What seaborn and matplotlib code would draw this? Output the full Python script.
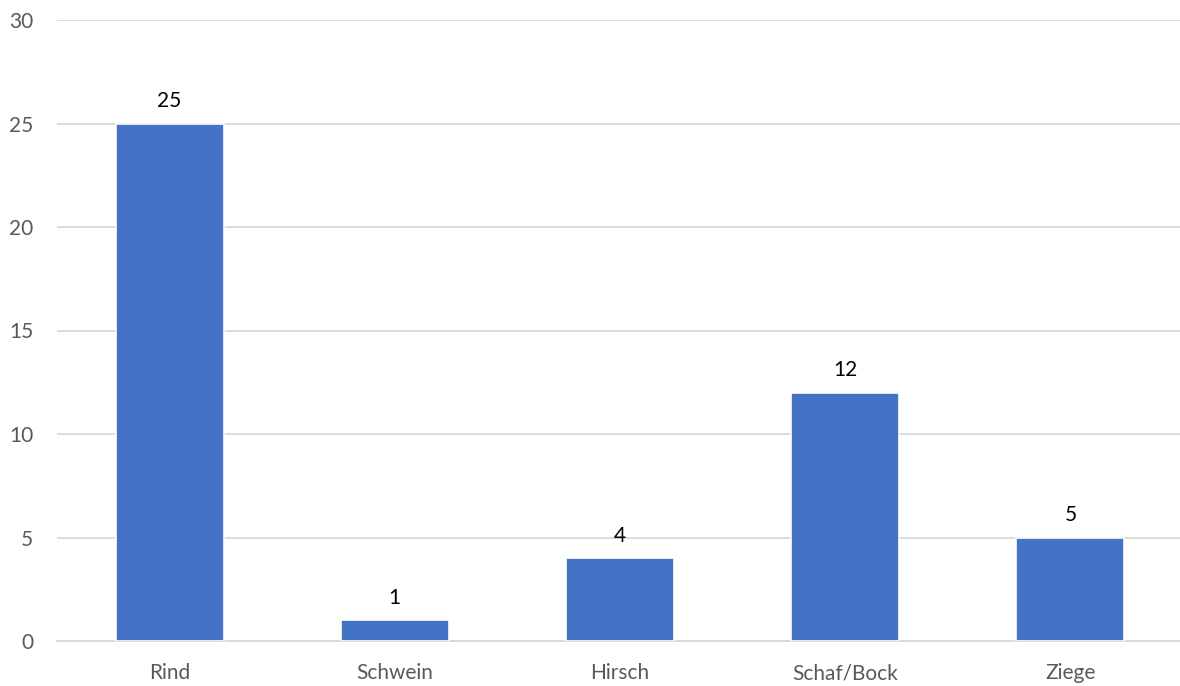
import matplotlib
matplotlib.use("Agg")
import matplotlib.pyplot as plt
import seaborn as sns
import pandas as pd
import numpy as np

categories = ["Rind", "Schwein", "Hirsch", "Schaf/Bock", "Ziege"]
values = [25, 1, 4, 12, 5]
y_ticks = [0, 5, 10, 15, 20, 25, 30]

sns.set_style("white")
plt.rcParams["font.family"] = ["Lato", "DejaVu Sans"]

df = pd.DataFrame({"Tier": categories, "Anzahl": values})

fig = plt.figure(figsize=(11.8, 6.86), dpi=100)
ax = fig.add_axes([57 / 1180, 45 / 686, 1126 / 1180, 621 / 686])

sns.barplot(data=df, x="Tier", y="Anzahl", color="#4472C4", saturation=1,
            width=0.48, edgecolor="white", linewidth=1.2, ax=ax, zorder=3)

ax.set_xlim(-0.5, len(categories) - 0.5)
ax.set_ylim(0, 30)
ax.set_yticks(y_ticks)
ax.set_yticklabels([str(t) for t in y_ticks])
ax.yaxis.grid(True, color="#D9D9D9", linewidth=1.3, zorder=0)
ax.set_axisbelow(True)
for side in ["top", "right", "left"]:
    ax.spines[side].set_visible(False)
ax.spines["bottom"].set_color("#D9D9D9")
ax.spines["bottom"].set_linewidth(1.3)

ax.tick_params(axis="y", length=0, labelsize=15, labelcolor="#595959", pad=17)
ax.tick_params(axis="x", which="major", length=0, labelsize=15,
               labelcolor="#595959", pad=16)
ax.set_xticks(np.arange(-0.5, len(categories)), minor=True)
ax.tick_params(axis="x", which="minor", length=6, color="#D9D9D9", width=1.3)
ax.set_xlabel("")
ax.set_ylabel("")

for i, v in enumerate(values):
    ax.annotate(str(v), (i, v), xytext=(0, 9), textcoords="offset points",
                ha="center", va="bottom", fontsize=15, color="black")

fig.savefig("out.png", dpi=100)
